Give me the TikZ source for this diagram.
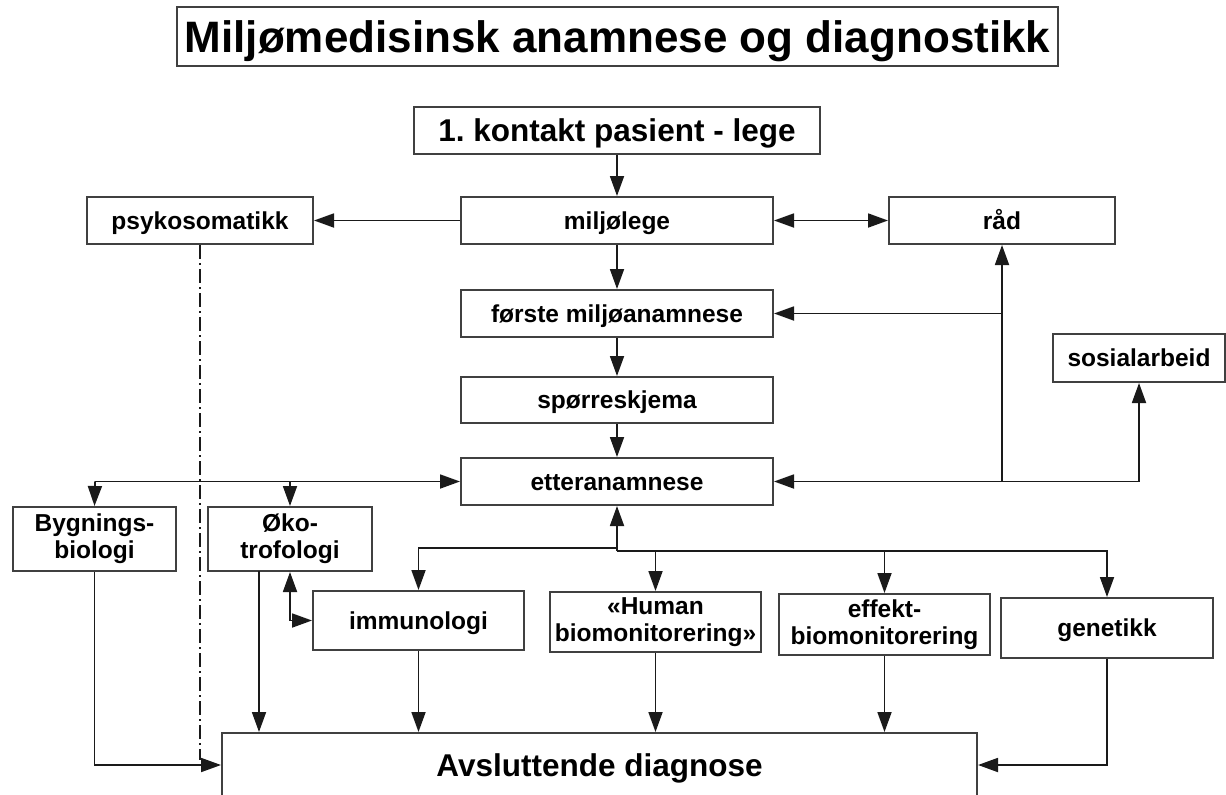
\documentclass[tikz,border=0pt]{standalone}
\usepackage{fontspec}
\setmainfont{Liberation Sans}
\usetikzlibrary{arrows.meta}
\frenchspacing
\definecolor{boxc}{HTML}{404040}
\definecolor{linec}{HTML}{1a1a1a}
\tikzset{
  bx/.style={draw=boxc, line width=2pt, fill=white, inner sep=0pt, align=center,
    text=black, font=\bfseries\fontsize{24.5}{27}\selectfont},
  one/.style={text height=17.5pt, text depth=0pt},
  onebig/.style={text height=22.6pt, text depth=0pt},
  arr/.style={draw=linec, line width=1.8pt, -{Triangle[length=20pt,width=14pt]}},
  arrb/.style={draw=linec, line width=1.8pt, {Triangle[length=20pt,width=14pt]}-{Triangle[length=20pt,width=14pt]}},
  ln/.style={draw=linec, line width=1.8pt},
  dashdotline/.style={draw=linec, line width=1.4pt, dash pattern=on 14pt off 4pt on 2pt off 4pt}
}
\begin{document}
\begin{tikzpicture}[x=1pt,y=-1pt]
\fill[white] (0,0) rectangle (1226,795);
\useasboundingbox (0,0) rectangle (1226,795);

% title
\node[bx, minimum width=881pt, minimum height=59pt, text height=31.5pt, text depth=0pt,
  font=\bfseries\fontsize{44}{48}\selectfont] (title) at (617.5,36.5)
  {Miljømedisinsk anamnese og diagnostikk};

% main column
\node[bx, onebig, minimum width=406pt, minimum height=47pt, font=\bfseries\fontsize{31.5}{34}\selectfont] (kontakt) at (617,130.5) {1. kontakt pasient - lege};
\node[bx, one, minimum width=312pt, minimum height=47pt] (miljolege) at (617,220.5) {miljølege};
\node[bx, one, minimum width=226pt, minimum height=47pt] (psyk) at (200,220.5) {psykosomatikk};
\node[bx, one, minimum width=226pt, minimum height=47pt] (rad) at (1002,220.5) {råd};
\node[bx, one, minimum width=312pt, minimum height=47pt] (forste) at (617,313.5) {første miljøanamnese};
\node[bx, one, minimum width=312pt, minimum height=46pt] (sporre) at (617,400) {spørreskjema};
\node[bx, one, minimum width=312pt, minimum height=47pt] (etter) at (617,481.5) {etteranamnese};
\node[bx, one, minimum width=172pt, minimum height=48pt] (sosial) at (1139,358) {sosialarbeid};

% lower row
\node[bx, minimum width=163pt, minimum height=64pt] (bygg) at (94.5,539) {Bygnings-\\biologi};
\node[bx, minimum width=164pt, minimum height=64pt] (oko) at (290,539) {Øko-\\trofologi};
\node[bx, one, minimum width=211pt, minimum height=59pt] (immu) at (418.5,620.5) {immunologi};
\node[bx, minimum width=211pt, minimum height=60pt] (human) at (655.5,622) {«Human\\biomonitorering»};
\node[bx, minimum width=211pt, minimum height=61pt] (effekt) at (884.5,624.5) {effekt-\\biomonitorering};
\node[bx, one, minimum width=212pt, minimum height=60pt] (genet) at (1107,628) {genetikk};

\node[bx, onebig, minimum width=755pt, minimum height=64pt, font=\bfseries\fontsize{31.5}{34}\selectfont] (avs) at (599.5,765) {Avsluttende diagnose};

% junction coordinates
\coordinate (jR) at (1002,481.5);
\coordinate (jF) at (1002,313.5);
\coordinate (jS) at (1139,481.5);
\coordinate (jL) at (95,481.5);
\coordinate (jO) at (290,481.5);
\coordinate (jB) at (617,548);
\coordinate (jB2) at (617,551);
\coordinate (dEnd) at (200,760);
\coordinate (oTop) at (259,571);

% connectors
\draw[arr] (kontakt.south) -- (miljolege.north);
\draw[arr] (miljolege.west) -- (psyk.east);
\draw[arrb] (miljolege.east) -- (rad.west);
\draw[arr] (miljolege.south) -- (forste.north);
\draw[arr] (forste.south) -- (sporre.north);
\draw[arr] (sporre.south) -- (etter.north);

\draw[arr] (jR) -- (etter.east);
\draw[arr] (jR) -- (rad.south);
\draw[arr] (jF) -- (forste.east);
\draw[arr] (jR) -- (jS) -- (sosial.south);

\draw[arr] (jL) -- (etter.west);
\draw[arr] (jL) -- (bygg.north);
\draw[arr] (jO) -- (oko.north);

\draw[dashdotline] (psyk.south) -- (dEnd);

\draw[arr] (bygg.south) |- (avs.west);
\draw[arr] (oTop) -- (oTop |- avs.north);
\draw[arrb] (oko.south) |- (immu.west);
\draw[arr] (immu.south) -- (immu.south |- avs.north);
\draw[arr] (human.south) -- (human.south |- avs.north);
\draw[arr] (effekt.south) -- (effekt.south |- avs.north);
\draw[arr] (genet.south) |- (avs.east);

\draw[arr] (jB2) -- (etter.south);
\draw[ln] (jB) -- (jB2);
\draw[arr] (jB) -| (immu.north);
\draw[arr] (jB2) -| (human.north);
\draw[arr] (jB2) -| (effekt.north);
\draw[arr] (jB2) -| (genet.north);
\end{tikzpicture}
\end{document}
